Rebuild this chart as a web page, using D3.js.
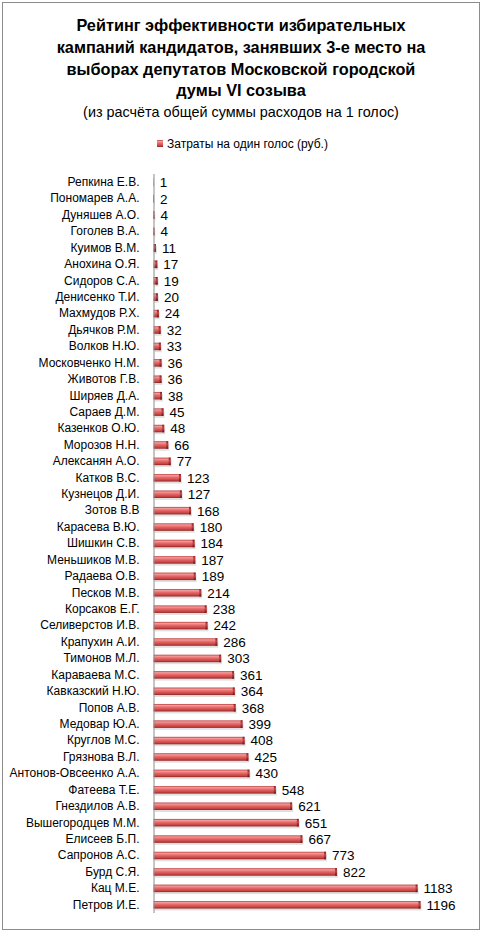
<!DOCTYPE html>
<html>
<head>
<meta charset="utf-8">
<script src="https://cdn.jsdelivr.net/npm/d3@7"></script>
<style>
  body { margin: 0; background: #fff; }
  text { font-family: "Liberation Sans", Arial, sans-serif; fill: #000; }
</style>
</head>
<body>
<div class="chart"></div>
<script>
var svgWidth = 483;
var svgHeight = 933;

// candidates, top to bottom
var names = [
  "Репкина Е.В.", "Пономарев А.А.", "Дуняшев А.О.", "Гоголев В.А.", "Куимов В.М.",
  "Анохина О.Я.", "Сидоров С.А.", "Денисенко Т.И.", "Махмудов Р.Х.", "Дьячков Р.М.",
  "Волков Н.Ю.", "Московченко Н.М.", "Животов Г.В.", "Ширяев Д.А.", "Сараев Д.М.",
  "Казенков О.Ю.", "Морозов Н.Н.", "Алексанян А.О.", "Катков В.С.", "Кузнецов Д.И.",
  "Зотов В.В", "Карасева В.Ю.", "Шишкин С.В.", "Меньшиков М.В.", "Радаева О.В.",
  "Песков М.В.", "Корсаков Е.Г.", "Селиверстов И.В.", "Крапухин А.И.", "Тимонов М.Л.",
  "Караваева М.С.", "Кавказский Н.Ю.", "Попов А.В.", "Медовар Ю.А.", "Круглов М.С.",
  "Грязнова В.Л.", "Антонов-Овсеенко А.А.", "Фатеева Т.Е.", "Гнездилов А.В.", "Вышегородцев М.М.",
  "Елисеев Б.П.", "Сапронов А.С.", "Бурд С.Я.", "Кац М.Е.", "Петров И.Е."
];

// затраты на один голос, руб.
var costs = [
  1, 2, 4, 4, 11,
  17, 19, 20, 24, 32,
  33, 36, 36, 38, 45,
  48, 66, 77, 123, 127,
  168, 180, 184, 187, 189,
  214, 238, 242, 286, 303,
  361, 364, 368, 399, 408,
  425, 430, 548, 621, 651,
  667, 773, 822, 1183, 1196
];

var titleLines = [
  "Рейтинг эффективности избирательных",
  "кампаний кандидатов, занявших 3-е место на",
  "выборах депутатов Московской городской",
  "думы VI созыва"
];
var subtitle = "(из расчёта общей суммы расходов на 1 голос)";
var legendLabel = "Затраты на один голос (руб.)";

var data = names.map(function(n, i) { return { name: n, value: costs[i] }; });

var margin = { top: 174, right: 17, bottom: 20, left: 153.5 };
var width = svgWidth - margin.left - margin.right;
var height = 913 - margin.top;

var svg = d3.select(".chart")
  .append("svg")
  .attr("width", svgWidth)
  .attr("height", svgHeight);

// outer frame
svg.append("rect")
  .attr("x", 2.5).attr("y", 2.5)
  .attr("width", 477).attr("height", 927)
  .attr("fill", "#fff")
  .attr("stroke", "#8c8c8c");

// cylinder-ish shading for bars
var defs = svg.append("defs");
var grad = defs.append("linearGradient")
  .attr("id", "barGrad")
  .attr("x1", 0).attr("y1", 0).attr("x2", 0).attr("y2", 1);
grad.append("stop").attr("offset", "0%").attr("stop-color", "#b83b3b");
grad.append("stop").attr("offset", "20%").attr("stop-color", "#f59a9a");
grad.append("stop").attr("offset", "45%").attr("stop-color", "#e86a6a");
grad.append("stop").attr("offset", "80%").attr("stop-color", "#c64444");
grad.append("stop").attr("offset", "100%").attr("stop-color", "#8e2424");

var capGrad = defs.append("linearGradient")
  .attr("id", "capGrad")
  .attr("x1", 0).attr("y1", 0).attr("x2", 0).attr("y2", 1);
capGrad.append("stop").attr("offset", "0%").attr("stop-color", "#8a2020");
capGrad.append("stop").attr("offset", "40%").attr("stop-color", "#c04848");
capGrad.append("stop").attr("offset", "100%").attr("stop-color", "#6e1616");

// title
var title = svg.append("text")
  .attr("text-anchor", "middle")
  .attr("font-weight", "bold")
  .attr("font-size", "16.3px");
titleLines.forEach(function(line, i) {
  title.append("tspan")
    .attr("x", 241)
    .attr("y", 31 + i * 21.8)
    .text(line);
});

svg.append("text")
  .attr("x", 241)
  .attr("y", 117)
  .attr("text-anchor", "middle")
  .attr("font-size", "14.4px")
  .text(subtitle);

// legend
svg.append("rect")
  .attr("x", 157).attr("y", 140)
  .attr("width", 6).attr("height", 7)
  .attr("fill", "url(#barGrad)");
svg.append("text")
  .attr("x", 167)
  .attr("y", 148)
  .attr("font-size", "12px")
  .text(legendLabel);

var chartGroup = svg.append("g")
  .attr("transform", `translate(${margin.left}, ${margin.top})`);

var xScale = d3.scaleLinear()
  .domain([0, 1400])
  .range([0, 1400 * 267 / 1196]);

var yScale = d3.scaleBand()
  .domain(names)
  .range([0, height])
  .paddingInner(0.5)
  .paddingOuter(0.25);

var barH = 7.5;

var rows = chartGroup.selectAll(".row")
  .data(data)
  .enter()
  .append("g")
  .attr("class", "row")
  .attr("transform", d => `translate(0, ${yScale(d.name) + yScale.bandwidth() / 2})`);

// soft shadow
rows.append("rect")
  .attr("x", 1)
  .attr("y", -barH / 2 + 2)
  .attr("width", d => Math.max(0, xScale(d.value)))
  .attr("height", barH)
  .attr("fill", "#000")
  .attr("opacity", 0.12);

rows.append("rect")
  .attr("x", 0)
  .attr("y", -barH / 2)
  .attr("width", d => xScale(d.value))
  .attr("height", barH)
  .attr("fill", "url(#barGrad)");

// dark end cap
rows.append("rect")
  .attr("x", d => Math.max(0, xScale(d.value) - 2))
  .attr("y", -barH / 2)
  .attr("width", d => Math.min(2, xScale(d.value)))
  .attr("height", barH)
  .attr("fill", "url(#capGrad)");

// value labels
rows.append("text")
  .attr("x", d => xScale(d.value) + 6)
  .attr("y", 0)
  .attr("dy", "0.36em")
  .attr("font-size", "13.5px")
  .text(d => d.value);

// category axis
var leftAxis = d3.axisLeft(yScale).tickSize(0).tickPadding(14);
var yAxis = chartGroup.append("g").call(leftAxis);
yAxis.select(".domain").attr("stroke", "#8c8c8c").attr("d", `M0.5,0V${height}`);
yAxis.selectAll("text")
  .attr("font-size", "12px")
  .attr("font-family", "Liberation Sans, Arial, sans-serif")
  .attr("fill", "#000");
</script>
</body>
</html>
